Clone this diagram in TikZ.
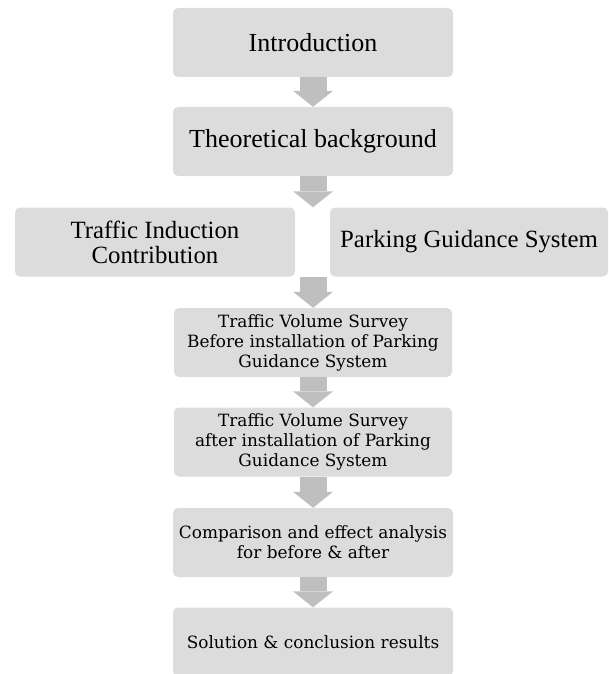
\documentclass[tikz,border=0pt]{standalone}
\usepackage{fontspec}
\setmainfont{Liberation Serif}
\newfontfamily\widefont{DejaVu Serif}
\usetikzlibrary{arrows.meta}
\definecolor{boxgray}{HTML}{DCDCDC}
\definecolor{arrowgray}{HTML}{BFBFBF}

\begin{document}
\begin{tikzpicture}[
			x=1pt, y=-1pt,
			stage/.style={rectangle, rounded corners=5pt, fill=boxgray, minimum width=280pt, minimum height=69pt, inner sep=0pt, align=center},
			topstage/.style={stage, font=\fontsize{26}{26}\selectfont},
			sidestage/.style={stage, font=\fontsize{24.8}{25}\selectfont},
			surveystage/.style={stage, font=\widefont\fontsize{16.9}{20}\selectfont},
			flow/.style={draw=arrowgray, line width=27pt, -{Triangle[width=40pt,length=16pt,line width=0pt,fill=arrowgray]}}
		]
		\clip (0,0) rectangle (609,674);

		\node[topstage] (intro) at (313,42.5) {Introduction};
		\node[topstage] (theory) at (313,141.5) {Theoretical background};
		\node[sidestage] (induction) at (155,242) {Traffic Induction\\Contribution};
		\node[sidestage, minimum width=278pt] (guidance) at (469,242) {Parking Guidance System};
		\node[surveystage, minimum width=278pt] (before) at (313,342.5) {Traffic Volume Survey\\Before installation of Parking\\Guidance System};
		\node[surveystage, minimum width=278pt] (after) at (313,442) {Traffic Volume Survey\\after installation of Parking\\Guidance System};
		\node[surveystage] (compare) at (313,542.5) {Comparison and effect analysis\\for before \& after};
		\node[surveystage] (solution) at (313,642) {Solution \& conclusion results};

		% arrows between the stages
		\coordinate (gaptop) at (theory.south |- induction.north);
		\coordinate (gapbot) at (theory.south |- induction.south);
		\draw[flow] (intro.south) -- (theory.north);
		\draw[flow] (theory.south) -- (gaptop);
		\draw[flow] (gapbot) -- (before.north);
		\draw[flow] (before.south) -- (after.north);
		\draw[flow] (after.south) -- (compare.north);
		\draw[flow] (compare.south) -- (solution.north);
	\end{tikzpicture}
\end{document}
